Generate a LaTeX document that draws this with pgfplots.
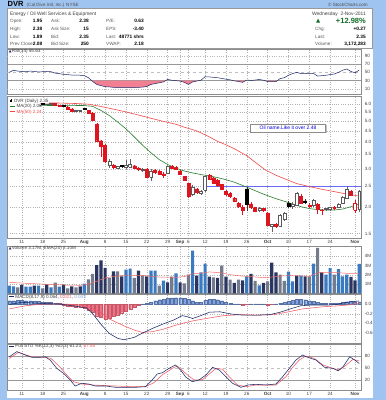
\documentclass[border=0pt]{standalone}
\usepackage{fontspec}
\setmainfont{Liberation Sans}
\newfontfamily\dejavu{DejaVu Sans}
\usepackage{pgfplots}
\pgfplotsset{compat=1.18}

\definecolor{frameblue}{RGB}{160,196,240}
\definecolor{navy}{RGB}{28,44,105}
\definecolor{cred}{RGB}{222,20,30}
\definecolor{mared}{RGB}{244,70,70}
\definecolor{magreen}{RGB}{40,125,45}
\definecolor{vblue}{RGB}{58,122,192}
\definecolor{vnavy}{RGB}{42,54,96}
\definecolor{vgray}{RGB}{115,123,140}
\definecolor{hblue}{RGB}{125,162,228}
\definecolor{hred}{RGB}{242,112,132}
\definecolor{rsipink}{RGB}{242,128,146}
\definecolor{sigred}{RGB}{240,90,100}
\definecolor{linkblue}{RGB}{105,105,245}
\definecolor{upgreen}{RGB}{20,110,40}

\newcommand{\fs}[1]{\fontsize{#1}{#1}\selectfont}

\pgfplotsset{
  panel/.style={scale only axis, width=354.1pt, height=#1, xmin=-0.5, xmax=84.5,
    anchor=south west, axis line style={draw=black!45, line width=0.4pt},
    tick style={draw=none},
    xtick={3,8,13,18,23,28,33,38,41,43,47,52,57,62,67,72,77,83},
    xticklabels={},
    xmajorgrids, ymajorgrids,
    major grid style={draw=black!30, line width=0.3pt, dotted},
    yticklabel pos=right,
    ticklabel style={font=\fs{4.6}, text=black!75},
    /pgf/number format/assume math mode=true},
  datelabels/.style={xticklabels={11,18,25,\textbf{Aug},8,15,22,29,\textbf{Sep},6,12,19,26,\textbf{Oct},10,17,24,\textbf{Nov}},
     xticklabel style={yshift=1.2pt}},
  wickR/.style={cred, line width=0.5pt},
  wickHR/.style={cred, line width=0.5pt},
  wickK/.style={black!80, line width=0.5pt},
  wickHK/.style={black!60, line width=0.5pt},
  bodyR/.style={fill=cred, draw=cred, line width=0.45pt},
  bodyHR/.style={fill=white, draw=cred, line width=0.45pt},
  bodyK/.style={fill=black, draw=black, line width=0.45pt},
  bodyHK/.style={fill=white, draw=black!65, line width=0.45pt},
  pinkfill/.style={fill=rsipink, draw=none},
}

\begin{document}
\begin{tikzpicture}[x=1pt,y=1pt]
\useasboundingbox (0,0) rectangle (386,400);
\fill[frameblue] (0,0) rectangle (386,400);
\fill[white] (6.5,1.5) rectangle (373,392);

% ---------------- RSI ----------------
\begin{axis}[panel=45pt, at={(7.25pt,306pt)}, ymin=-2, ymax=106,
  ytick={10,30,50,70,90}, yticklabels={10,30,50,70,90}, ymajorgrids=false]
\addplot[black!28, dotted, line width=0.3pt] coordinates {(-0.5,10)(84.5,10)};
\addplot[black!28, dotted, line width=0.3pt] coordinates {(-0.5,90)(84.5,90)};
\addplot[black!40, line width=0.5pt] coordinates {(-0.5,30)(84.5,30)};
\addplot[black!40, line width=0.5pt] coordinates {(-0.5,70)(84.5,70)};
\addplot[black!25, dashed, line width=0.8pt] coordinates {(-0.5,50)(84.5,50)};
\addplot[pinkfill] coordinates {(19.8,30)(20,28)(21,21)(22,18)(23,15.5)(24,15)(25,14)(26,13.5)(27,13)(28,13)(29,13.5)(30,13.5)(31,14)(32,14.5)(33,16)(34,21)(35,23)(36,25)(37,27)(37.5,30)} -- cycle;
\addplot[pinkfill] coordinates {(40,30)(41,29)(42,26)(43,21)(44,27)(45,29)(45.5,30)} -- cycle;
\addplot[pinkfill] coordinates {(53.8,30)(54,29.5)(55,28)(56,26)(56.7,30)} -- cycle;
\addplot[pinkfill] coordinates {(61.3,30)(62,28)(63,27.5)(64,27.5)(64.3,30)} -- cycle;
\addplot[navy, line width=0.5pt] coordinates {
(0,50)(1,55)(2,53)(3,52)(4,51.5)(5,53)(6,52)(7,51)(8,51.5)(9,52)(10,51.5)(11,48)(12,47)(13,45)(14,44.5)(15,43.5)(16,43.5)(17,43)(18,42)(19,37)(20,28)(21,21)(22,18)(23,15.5)(24,15)(25,14)(26,13.5)(27,13)(28,13)(29,13.5)(30,13.5)(31,14)(32,14.5)(33,16)(34,21)(35,23)(36,25)(37,27)(38,33)(39,31)(40,30)(41,29)(42,26)(43,21)(44,27)(45,29)(46,31)(47,39.5)(48,39)(49,38)(50,37)(51,35.5)(52,33.5)(53,32)(54,29.5)(55,28)(56,26)(57,31.5)(58,30.5)(59,31.5)(60,33)(61,31)(62,28)(63,27.5)(64,27.5)(65,35)(66,37)(67,43)(68,47)(69,50)(70,47)(71,47.5)(72,46.5)(73,47.5)(74,41)(75,42)(76,43)(77,44.5)(78,46)(79,50)(80,55)(81,58)(82,52)(83,49)(84,55.63)};
\end{axis}

% ---------------- PRICE ----------------
\begin{axis}[panel=141.5pt, at={(7.25pt,162pt)}, ymode=log, ymin=1.431, ymax=6.5,
  ytick={1.5,2,2.5,3,3.5,4,4.5,5,5.5,6},
  yticklabels={1.5,2.0,2.5,3.0,3.5,4.0,4.5,5.0,5.5,6.0}, datelabels]
\addplot[linkblue, line width=0.8pt] coordinates {(47,2.48)(84.5,2.48)};
\addplot[mared, line width=0.6pt] coordinates {
(0,6.04)(4,6.05)(8,6.06)(12,6.06)(16,6.03)(19,5.99)(22,5.84)(25,5.68)(28,5.51)(31,5.33)(34,5.15)(37,4.98)(40,4.83)(42,4.68)(45,4.5)(48,4.22)(50,4.02)(52,3.88)(54,3.72)(57,3.45)(59,3.22)(61.5,2.96)(64,2.8)(66,2.7)(69,2.56)(72,2.48)(75,2.41)(78,2.35)(81,2.29)(84,2.24)};
\addplot[magreen, line width=0.6pt] coordinates {
(0,5.86)(3,5.87)(6,5.88)(9,5.9)(12,5.91)(15,5.91)(18,5.9)(20,5.85)(22,5.6)(24,5.3)(26,4.95)(28,4.6)(30,4.22)(32,3.86)(34,3.56)(36,3.31)(38,3.14)(40,3.02)(42,2.93)(44,2.87)(46,2.82)(48,2.78)(50,2.73)(52,2.67)(54,2.6)(56,2.51)(58,2.42)(60,2.33)(62,2.25)(64,2.18)(66,2.12)(68,2.06)(70,2.0)(72,1.96)(74,1.94)(76,1.93)(78,1.93)(80,1.95)(82,2.0)(84,2.06)};
\foreach \i/\o/\h/\l/\c/\s in {
0/5.86/5.96/5.80/5.92/HK, 1/5.92/6.00/5.86/5.95/HK, 2/5.96/5.99/5.84/5.88/R, 3/5.88/5.94/5.80/5.85/R,
4/5.84/5.93/5.78/5.91/HK, 5/5.91/6.02/5.88/5.98/HK, 6/5.98/6.00/5.86/5.90/R, 7/5.90/5.97/5.85/5.94/HK,
8/6.02/6.04/5.96/5.99/K, 9/5.98/6.01/5.94/6.00/HK, 10/6.00/6.05/5.95/6.03/HK, 11/6.05/6.08/5.88/5.90/R,
12/5.90/5.93/5.84/5.88/R, 13/5.90/5.92/5.82/5.88/K, 14/5.82/5.85/5.62/5.65/R, 15/5.70/5.74/5.55/5.58/R,
16/5.56/5.64/5.50/5.59/HK, 17/5.55/5.65/5.50/5.60/HK, 18/5.72/5.76/5.60/5.66/K, 19/5.60/5.64/5.42/5.45/R,
20/5.45/5.48/4.98/5.02/R, 21/4.85/4.90/4.02/4.05/R, 22/4.05/4.10/3.42/3.82/R, 23/3.85/3.90/3.20/3.25/R,
24/3.12/3.32/3.02/3.26/HK, 25/3.12/3.15/3.00/3.04/R, 26/3.03/3.10/2.98/3.07/HK, 27/3.12/3.14/3.02/3.08/K,
28/3.04/3.28/3.00/3.12/HK, 29/3.06/3.32/3.02/3.14/HK, 30/3.10/3.14/2.98/3.02/R, 31/3.02/3.06/2.92/2.98/R,
32/2.96/3.03/2.90/2.99/HK, 33/3.00/3.03/2.72/2.75/R, 34/2.75/2.98/2.62/2.93/HK, 35/2.95/2.98/2.85/2.88/R,
36/2.92/2.95/2.80/2.82/R, 37/2.84/2.90/2.72/2.79/R, 38/2.85/3.12/2.83/3.10/HK, 39/3.08/3.12/3.00/3.03/R,
40/3.04/3.08/2.95/2.98/R, 41/2.93/2.96/2.80/2.82/R, 42/2.76/2.78/2.64/2.66/R, 43/2.56/2.58/2.20/2.24/R,
44/2.28/2.52/2.25/2.45/HK, 45/2.42/2.45/2.30/2.33/R, 46/2.30/2.38/2.26/2.36/HK, 47/2.38/2.82/2.35/2.78/HK,
48/2.80/2.84/2.65/2.68/R, 49/2.72/2.75/2.55/2.58/R, 50/2.65/2.68/2.48/2.52/R, 51/2.54/2.56/2.38/2.40/R,
52/2.35/2.38/2.25/2.28/R, 53/2.30/2.33/2.20/2.23/R, 54/2.20/2.23/2.10/2.12/R, 55/2.08/2.10/1.98/2.00/R,
56/1.99/2.03/1.83/1.92/R, 57/2.42/2.46/1.92/2.05/K, 58/2.06/2.10/1.95/1.98/R, 59/1.98/2.00/1.88/1.90/R,
60/1.92/2.00/1.88/1.97/HK, 61/1.96/1.98/1.88/1.92/R, 62/1.87/1.88/1.62/1.64/R, 63/1.62/1.67/1.53/1.65/HK,
64/1.66/1.68/1.60/1.62/R, 65/1.63/1.85/1.61/1.83/HK, 66/1.74/1.88/1.72/1.86/HK, 67/2.08/2.12/1.98/2.02/K,
68/2.01/2.10/1.95/2.06/HK, 69/2.04/2.33/2.02/2.30/HK, 70/2.23/2.28/2.05/2.08/R, 71/2.13/2.16/2.05/2.09/K,
72/2.02/2.08/1.98/2.04/HR, 73/2.04/2.18/2.00/2.14/HK, 74/2.05/2.08/1.85/1.94/R, 75/1.93/1.96/1.83/1.92/R,
76/1.94/1.98/1.90/1.96/HK, 77/1.94/2.00/1.92/1.99/HK, 78/1.99/2.02/1.94/1.97/R, 79/1.99/2.08/1.97/2.06/HK,
80/2.07/2.24/2.05/2.22/HK, 81/2.19/2.50/2.16/2.40/HK, 82/2.36/2.40/2.24/2.26/R, 83/1.93/2.15/1.87/2.08/HR,
84/1.95/2.38/1.89/2.35/HK}{
  \pgfmathsetmacro\xa{\i-0.35}\pgfmathsetmacro\xb{\i+0.35}
  \edef\tmp{\noexpand\addplot[wick\s] coordinates {(\i,\l)(\i,\h)};
    \noexpand\addplot[body\s] coordinates {(\xa,\o)(\xb,\o)(\xb,\c)(\xa,\c)(\xa,\o)};}
  \tmp
}
\end{axis}

% ---------------- VOLUME ----------------
\begin{axis}[panel=47.3pt, at={(7.25pt,106.7pt)}, ymin=0, ymax=5.09,
  ytick={1,2,3,4}, yticklabels={1M,2M,3M,4M}]
\addplot[ybar, bar width=3.2pt, bar shift=0pt, fill=vblue, draw=none] coordinates {
(0,0.82)(1,0.75)(4,0.72)(5,0.72)(7,0.82)(10,0.64)(12,0.72)(18,1.04)(28,2.54)(29,2.65)(34,2.44)(35,2.44)(37,1.36)(40,2.15)(44,4.6)(46,2.26)(47,3.2)(57,1.83)(60,0.86)(67,2.33)(68,1.29)(70,1.9)(73,3.2)(76,2.0)(77,2.7)(79,2.6)(80,1.83)(81,2.0)(84,3.17)};
\addplot[ybar, bar width=3.2pt, bar shift=0pt, fill=vnavy, draw=none] coordinates {
(3,0.9)(6,0.82)(9,0.97)(13,0.93)(15,0.75)(17,0.75)(21,3.03)(22,3.53)(23,2.74)(25,2.37)(27,1.83)(31,2.44)(33,1.83)(38,1.18)(41,1.18)(45,1.9)(48,1.8)(50,1.65)(52,1.8)(54,1.11)(56,1.4)(58,2.1)(61,1.11)(63,3.3)(64,2.26)(69,1.9)(71,1.83)(75,2.26)(82,1.76)(83,1.4)};
\addplot[ybar, bar width=3.2pt, bar shift=0pt, fill=vgray, draw=none] coordinates {
(2,0.64)(8,0.54)(11,1.15)(14,0.54)(16,0.64)(19,1.5)(20,2.1)(24,1.65)(26,2.37)(30,1.65)(32,1.94)(36,0.82)(39,1.79)(42,1.08)(43,2.0)(49,1.72)(51,2.97)(53,1.47)(55,1.47)(59,1.33)(62,1.29)(65,2.0)(66,1.33)(72,1.83)(74,4.9)(78,2.0)};
\addplot[mared!80, line width=0.5pt] coordinates {
(0,1.18)(5,1.05)(10,0.95)(14,0.88)(17,0.86)(19,1.0)(21,1.3)(23,1.65)(25,1.8)(28,1.95)(32,1.92)(36,1.75)(40,1.72)(42,1.8)(44,2.1)(46,2.15)(48,2.3)(51,2.2)(53,2.0)(56,1.85)(58,1.8)(61,1.68)(63,1.75)(65,1.85)(67,1.9)(69,1.88)(72,1.83)(74,2.2)(76,2.26)(78,2.25)(80,2.18)(82,2.12)(84,2.10)};
\end{axis}

% ---------------- MACD ----------------
\begin{axis}[panel=48.5pt, at={(7.25pt,57pt)}, ymin=-0.807, ymax=0.197,
  ytick={-0.6,-0.4,-0.2,0}, yticklabels={-0.6,-0.4,-0.2,0.0}]
\addplot[ybar, bar width=3pt, bar shift=0pt, fill=hblue, draw=hblue!70!black, line width=0.2pt] coordinates {
(0,0.07)(1,0.07)(2,0.08)(3,0.08)(4,0.07)(5,0.07)(6,0.055)(7,0.055)(8,0.04)(9,0.035)(10,0.03)(11,0.02)(12,0.015)(32,0.005)(33,0.02)(34,0.04)(35,0.07)(36,0.09)(37,0.10)(38,0.12)(39,0.125)(40,0.13)(41,0.13)(42,0.12)(43,0.10)(44,0.07)(45,0.04)(46,0.03)(47,0.08)(48,0.10)(49,0.10)(50,0.09)(51,0.07)(52,0.04)(53,0.02)(54,0.005)(55,0.003)(58,0.003)(59,0.005)(60,0.005)(61,0.003)(64,0.005)(65,0.02)(66,0.035)(67,0.055)(68,0.08)(69,0.10)(70,0.10)(71,0.09)(72,0.07)(73,0.055)(74,0.035)(75,0.02)(76,0.015)(77,0.015)(78,0.015)(79,0.02)(80,0.035)(81,0.05)(82,0.055)(83,0.05)(84,0.043)};
\addplot[ybar, bar width=3pt, bar shift=0pt, fill=hred, draw=hred!80!black, line width=0.2pt] coordinates {
(13,-0.02)(14,-0.035)(15,-0.05)(16,-0.055)(17,-0.07)(18,-0.09)(19,-0.12)(20,-0.17)(21,-0.24)(22,-0.28)(23,-0.31)(24,-0.30)(25,-0.26)(26,-0.22)(27,-0.18)(28,-0.14)(29,-0.10)(30,-0.06)(31,-0.03)(56,-0.015)(57,-0.01)(62,-0.015)(63,-0.01)};
\addplot[sigred, line width=0.55pt] coordinates {
(0,-0.10)(4,-0.035)(8,0.0)(13,0.0)(17,-0.02)(19.5,-0.07)(22,-0.18)(24,-0.31)(27.5,-0.45)(30,-0.54)(32,-0.59)(34.5,-0.57)(37,-0.52)(39.5,-0.45)(42,-0.39)(44,-0.35)(46.5,-0.31)(51.5,-0.24)(55.5,-0.22)(59.5,-0.23)(63.5,-0.22)(66.5,-0.17)(70.5,-0.1)(75.5,-0.055)(78.5,-0.04)(82,-0.014)(84,0.021)};
\addplot[navy, line width=0.55pt] coordinates {
(0,-0.01)(3,0.035)(7,0.015)(12,0.0)(15,-0.035)(18.5,-0.08)(20,-0.2)(22,-0.42)(24,-0.61)(26,-0.71)(27.5,-0.74)(30,-0.69)(32,-0.6)(34.5,-0.5)(37,-0.41)(39.5,-0.33)(41.5,-0.24)(43,-0.27)(44,-0.3)(46,-0.24)(48,-0.17)(50.5,-0.16)(53.5,-0.21)(56,-0.23)(59.5,-0.23)(62.5,-0.22)(65,-0.17)(67.5,-0.1)(70,-0.035)(73,-0.02)(76,-0.025)(78.5,-0.01)(81,0.035)(84,0.064)};
\end{axis}

% ---------------- Full STO ----------------
\begin{axis}[panel=46pt, at={(7.25pt,10pt)}, ymin=-5, ymax=110,
  ytick={20,50,80}, yticklabels={20,50,80}, ymajorgrids=false, datelabels]
\addplot[black!40, line width=0.5pt] coordinates {(-0.5,20)(84.5,20)};
\addplot[black!40, line width=0.5pt] coordinates {(-0.5,80)(84.5,80)};
\addplot[black!25, dashed, line width=0.8pt] coordinates {(-0.5,50)(84.5,50)};
\addplot[sigred, line width=0.55pt] coordinates {
(0,74)(2.2,89)(5.4,78)(8.6,76.7)(10,74)(12.2,51.7)(13.8,32.5)(15.4,15.8)(17.4,10)(19.9,7.5)(23.1,6)(29.5,3.3)(32.7,3.3)(34.7,13.3)(36.7,32.5)(39.1,49)(40.3,55)(42.3,36.7)(44.3,20)(46.4,21)(48,35)(49.6,49)(51.2,47)(52.8,28)(54.8,7.5)(56.8,3.3)(59.2,7.5)(64,7.5)(66.4,28)(68,51.7)(69.6,70)(71.2,80)(73.2,74)(75.3,57.5)(77.7,49)(79.3,45)(80.9,57.5)(82.5,71.7)(84,67.48)};
\addplot[navy, line width=0.55pt] coordinates {
(0,78)(1.8,91)(3.8,82.5)(5.4,76.7)(7.4,76.7)(8.6,78)(9.8,70)(11.4,49)(13,36.7)(14.6,20)(15.8,5)(17.4,11.7)(19,10)(20.7,5)(23.1,5)(25.5,1.7)(27.9,1.7)(30.3,1.7)(32.7,3.3)(34.3,20)(35.5,35)(36.7,38)(38.3,49)(39.9,57.5)(41.1,45)(42.3,28)(43.9,15.8)(45.5,20)(47.2,32.5)(48.8,51.7)(50.4,45)(52,28)(53.6,11.7)(55.6,1.7)(57.2,7.5)(59.2,9.2)(61.6,7.5)(64,10)(65.6,28)(67.2,49)(68.8,70)(70.4,82.5)(71.6,76.7)(73.6,70)(75.7,51.7)(77.7,49)(78.9,43)(80.1,53)(81.7,78)(82.9,70)(84,61.23)};
\end{axis}

% ---------------- header ----------------
\draw[black!40, line width=0.4pt] (7,352) rectangle (372.5,392);
\node[anchor=base west, inner sep=0pt, font=\fs{7.5}\bfseries] at (7.5,393.3) {DVR};
\node[anchor=base west, inner sep=0pt, font=\fs{4.6}, text=black!70] at (26.5,393.3) {(Cal Dive Intl, Inc.) NYSE};
\node[anchor=base east, inner sep=0pt, font=\fs{4.6}, text=black!70] at (368,393.3) {© StockCharts.com};

\begin{scope}[every node/.style={inner sep=0pt, font=\fs{4.6}}]
\node[anchor=base west, text=black!75, font=\fs{4.9}] at (10,384.5) {Energy / Oil Well Services \& Equipment};
\node[anchor=base east, text=black!75, font=\fs{4.9}] at (366,384.5) {Wednesday\ \ 2-Nov-2011};
\foreach \y/\a/\b/\c in {377.5/Open:/Ask:/P\slash E:, 369.5/High:/Ask Size:/EPS:, 361.5/Low:/Bid:/Last:, 354/Prev Close:/Bid Size:/VWAP:}{
  \node[anchor=base west, text=black!65] at (10,\y) {\a};
  \node[anchor=base west, text=black!65] at (51,\y) {\b};
  \node[anchor=base west, text=black!65] at (106,\y) {\c};
}
\foreach \y/\a/\b/\c in {377.5/1.95/2.38/0.63, 369.5/2.38/15/-3.40, 361.5/1.89/2.35/48771 shrs, 354/2.08/250/2.18}{
  \node[anchor=base east, font=\fs{4.8}\bfseries] at (42.5,\y) {\a};
  \node[anchor=base east, font=\fs{4.8}\bfseries] at (89,\y) {\b};
  \node[anchor=base east, font=\fs{4.8}\bfseries] at (144,\y) {\c};
}
\node[anchor=base west, text=black!65] at (315,369.5) {Chg:};
\node[anchor=base west, text=black!65] at (315,361.5) {Last:};
\node[anchor=base west, text=black!65] at (315,354) {Volume:};
\node[anchor=base east, font=\fs{4.8}\bfseries] at (366,369.5) {+0.27};
\node[anchor=base east, font=\fs{4.8}\bfseries] at (366,361.5) {2.35};
\node[anchor=base east, font=\fs{4.8}\bfseries] at (366,354) {3,172,283};
\node[anchor=base west, text=upgreen, font=\dejavu\fs{5.5}] at (316,377) {▲};
\node[anchor=base east, text=upgreen, font=\fs{7.5}\bfseries] at (366,376.8) {+12.98\%};
\end{scope}

% ---------------- panel labels ----------------
\begin{scope}[every node/.style={inner sep=0.3pt, font=\fs{4.6}, text=black!75, anchor=base west}]
\node at (8.5,347.2) {{\dejavu\fs{3.6}\color{navy}▲}RSI(14) 55.63};
\fill[white] (7.7,286.5) rectangle (40,303.2);
\node[fill=white] at (13.5,297.8) {DVR (Daily) 2.35};
\draw[black, line width=0.4pt] (11,297.6)--(11,301.2);
\fill[black] (10.2,298.3) rectangle (11.8,300.4);
\node at (16,292.3) {MA(20) 2.06};
\draw[magreen, line width=0.6pt] (9.5,293.8)--(15.2,293.8);
\node[text=mared] at (16,286.8) {MA(50) 2.24};
\draw[mared, line width=0.6pt] (9.5,288.3)--(15.2,288.3);
\node at (8.5,150.2) {{\dejavu\fs{3.6}\color{navy}▲}Volume 3.17M, EMA(20) 2.10M};
\node at (15,101.8) {MACD(8,17,9) 0.064, {\color{sigred}0.021}, {\color{hblue}0.043}};
\draw[navy, line width=0.6pt] (9.3,103.3)--(14.3,103.3);
\node at (15,52.3) {Full STO \%K(12,3) \%D(3) 61.23, {\color{sigred}67.48}};
\draw[navy, line width=0.6pt] (9.3,53.8)--(14.3,53.8);
\end{scope}

% annotation
\fill[black!25] (251.5,267.2) rectangle (326.5,275.2);
\node[draw=black!45, fill=white, text=blue!85!black, font=\fs{5}, inner sep=0pt,
  minimum width=75pt, minimum height=7.6pt] at (288,272) {Oil name.Like it over 2.48};
\end{tikzpicture}
\end{document}
